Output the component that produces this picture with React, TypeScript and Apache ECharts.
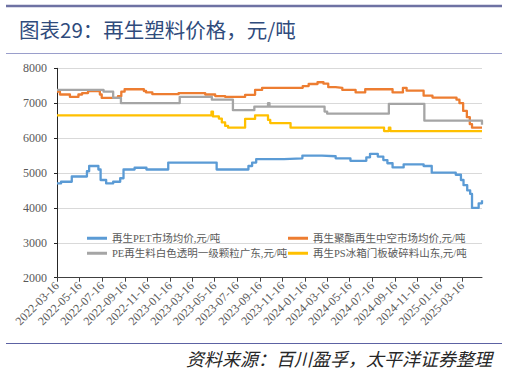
import React, { useEffect, useRef } from "react";
import * as echarts from "echarts";

const titleText = "图表29：再生塑料价格，元/吨";
const sourceText = "资料来源：百川盈孚，太平洋证券整理";

const seriesNames = [
  "再生PET市场均价,元/吨",
  "再生聚酯再生中空市场均价,元/吨",
  "PE再生料白色透明一级颗粒广东,元/吨",
  "再生PS冰箱门板破碎料山东,元/吨",
];
const seriesColors = ["#5B9BD5", "#ED7D31", "#A5A5A5", "#FFC000"];

const tickLabels = [
  "2022-03-16", "2022-05-16", "2022-07-16", "2022-09-16", "2022-11-16",
  "2023-01-16", "2023-03-16", "2023-05-16", "2023-07-16", "2023-09-16",
  "2023-11-16", "2024-01-16", "2024-03-16", "2024-05-16", "2024-07-16",
  "2024-09-16", "2024-11-16", "2025-01-16", "2025-03-16",
];
const xStart = "2022-03-16";
const xEnd = "2025-05-09";

const yMin = 2000;
const yMax = 8000;
const yStep = 1000;

const petData: [string, number][] = [
  ["2022-03-16", 4700], ["2022-03-27", 4750], ["2022-04-25", 4900],
  ["2022-06-05", 5050], ["2022-06-11", 5200], ["2022-07-06", 5100],
  ["2022-07-12", 4800], ["2022-07-27", 4700], ["2022-08-15", 4750],
  ["2022-09-03", 4850], ["2022-09-12", 5100], ["2022-10-12", 5150],
  ["2022-11-13", 5100], ["2023-01-11", 5300], ["2023-05-22", 5100],
  ["2023-08-16", 5200], ["2023-08-26", 5300], ["2023-09-06", 5400],
  ["2023-11-20", 5420], ["2024-01-09", 5500], ["2024-03-02", 5480],
  ["2024-04-08", 5420], ["2024-05-18", 5350], ["2024-06-30", 5450],
  ["2024-07-10", 5550], ["2024-07-31", 5470], ["2024-08-15", 5370],
  ["2024-08-26", 5280], ["2024-09-09", 5160], ["2024-10-09", 5250],
  ["2024-12-02", 5200], ["2024-12-24", 5010], ["2025-02-27", 4950],
  ["2025-03-13", 4800], ["2025-03-20", 4650], ["2025-03-30", 4500],
  ["2025-04-07", 4400], ["2025-04-12", 4000], ["2025-04-30", 4130],
  ["2025-05-09", 4220],
];

const polyesterData: [string, number][] = [
  ["2022-03-16", 7330], ["2022-03-24", 7250], ["2022-04-20", 7180],
  ["2022-05-13", 7250], ["2022-05-23", 7290], ["2022-06-08", 7350],
  ["2022-07-10", 7250], ["2022-07-15", 7150], ["2022-08-28", 7200],
  ["2022-09-06", 7330], ["2022-09-15", 7400], ["2022-11-06", 7350],
  ["2022-11-12", 7310], ["2022-11-29", 7260], ["2023-02-08", 7290],
  ["2023-04-21", 7250], ["2023-05-18", 7205], ["2023-06-14", 7180],
  ["2023-08-07", 7240], ["2023-09-03", 7380], ["2023-09-22", 7440],
  ["2024-01-10", 7490], ["2024-01-26", 7550], ["2024-02-19", 7600],
  ["2024-03-06", 7560], ["2024-03-19", 7460], ["2024-04-08", 7440],
  ["2024-04-26", 7380], ["2024-06-01", 7310], ["2024-06-27", 7400],
  ["2024-09-09", 7310], ["2024-10-07", 7440], ["2024-10-17", 7360],
  ["2024-12-02", 7215], ["2024-12-26", 7160], ["2025-03-01", 7100],
  ["2025-03-09", 7000], ["2025-03-19", 6780], ["2025-03-29", 6600],
  ["2025-04-06", 6400], ["2025-04-12", 6300], ["2025-05-09", 6300],
];

const peData: [string, number][] = [
  ["2022-03-16", 7380], ["2022-07-20", 7330], ["2022-08-15", 7150],
  ["2022-09-05", 7000], ["2023-02-11", 7180], ["2023-05-09", 7100],
  ["2023-07-05", 6800], ["2023-09-01", 6900], ["2023-10-08", 7000],
  ["2023-10-12", 6900], ["2024-03-09", 6760], ["2024-03-16", 6700],
  ["2024-08-30", 6980], ["2024-12-04", 6500], ["2025-05-04", 6500],
  ["2025-05-09", 6380],
];

const psData: [string, number][] = [
  ["2022-03-16", 6650], ["2023-05-08", 6760], ["2023-05-12", 6620],
  ["2023-05-28", 6560], ["2023-06-05", 6450], ["2023-06-14", 6350],
  ["2023-06-22", 6300], ["2023-08-07", 6550], ["2023-09-03", 6650],
  ["2023-10-08", 6520], ["2023-10-14", 6430], ["2023-12-08", 6300],
  ["2024-08-17", 6200], ["2024-08-30", 6300], ["2024-09-03", 6200],
  ["2025-05-09", 6200],
];

const allData = [petData, polyesterData, peData, psData];

const ts = (s: string) => new Date(s + "T00:00:00").getTime();

export default function App() {
  const ref = useRef<HTMLDivElement>(null);

  useEffect(() => {
    if (!ref.current) return;
    const chart = echarts.init(ref.current, undefined, { renderer: "svg" });
    const tickTs = tickLabels.map(ts);
    const labelMap: Record<number, string> = {};
    tickLabels.forEach((l) => (labelMap[ts(l)] = l));
    const serifFont = "'Liberation Serif', 'Noto Sans CJK SC', serif";
    const legendCommon = {
      orient: "vertical" as const,
      itemWidth: 20,
      itemHeight: 3,
      icon: "rect",
      itemGap: 4.5,
      textStyle: { fontSize: 10.5, color: "#595959", fontFamily: serifFont },
    };

    chart.setOption({
      animation: false,
      backgroundColor: "#ffffff",
      grid: { left: 57, right: 25, top: 68.3, bottom: 93.3 },
      xAxis: {
        type: "value",
        min: ts(xStart),
        max: ts(xEnd),
        axisLine: { show: true, lineStyle: { color: "#404040", width: 1 } },
        axisTick: {
          show: true,
          customValues: tickTs,
          length: 4,
          lineStyle: { color: "#404040" },
        },
        axisLabel: {
          customValues: tickTs,
          formatter: (v: number) => labelMap[v] ?? "",
          rotate: 45,
          fontSize: 12,
          color: "#595959",
          fontFamily: serifFont,
          margin: 6,
        },
        splitLine: { show: false },
        minorTick: { show: false },
      },
      yAxis: {
        type: "value",
        min: yMin,
        max: yMax,
        interval: yStep,
        axisLine: { show: true, lineStyle: { color: "#262626", width: 1 } },
        axisTick: { show: true, length: 3, lineStyle: { color: "#262626" } },
        axisLabel: {
          formatter: (v: number) => String(v),
          fontSize: 12,
          color: "#595959",
          fontFamily: serifFont,
          margin: 10,
        },
        splitLine: { show: true, lineStyle: { color: "#d9d9d9", width: 1 } },
      },
      legend: [
        { ...legendCommon, data: [seriesNames[0], seriesNames[2]], left: 82, top: 228 },
        { ...legendCommon, data: [seriesNames[1], seriesNames[3]], left: 283, top: 228 },
      ],
      series: allData.map((d, i) => ({
        name: seriesNames[i],
        type: "line",
        step: "end",
        showSymbol: false,
        symbol: "none",
        color: seriesColors[i],
        lineStyle: { color: seriesColors[i], width: 2.3, join: "round" },
        data: d.map(([date, v]) => [ts(date), v]),
      })),
      graphic: [
        {
          type: "line",
          shape: { x1: 6, y1: 6, x2: 502, y2: 6 },
          style: { stroke: "#6e72a3", lineWidth: 2.5 },
        },
        {
          type: "line",
          shape: { x1: 6, y1: 53.5, x2: 502, y2: 53.5 },
          style: { stroke: "#9a9ecb", lineWidth: 1 },
        },
        {
          type: "text",
          left: 19,
          top: 19,
          style: {
            text: titleText,
            fontSize: 20.5,
            fill: "#2f4b7c",
            fontFamily: "'Noto Sans CJK SC', sans-serif",
          },
        },
        {
          type: "line",
          shape: { x1: 6, y1: 343.5, x2: 502, y2: 343.5 },
          style: { stroke: "#5c62a3", lineWidth: 1.2 },
        },
        {
          type: "text",
          right: 15,
          top: 349,
          style: {
            text: sourceText,
            fontSize: 18,
            fontStyle: "italic",
            fill: "#262626",
            fontFamily: "'Noto Sans CJK SC', sans-serif",
          },
        },
      ],
    });
    return () => chart.dispose();
  }, []);

  return (
    <div
      ref={ref}
      style={{ position: "fixed", left: 0, top: 0, width: 507, height: 371 }}
    />
  );
}
